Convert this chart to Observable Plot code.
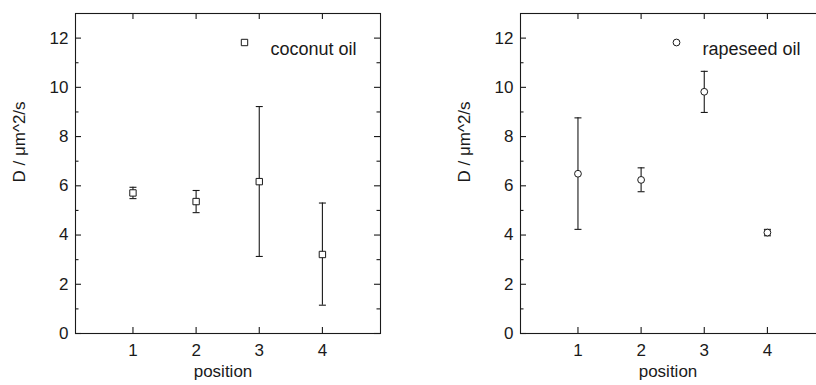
<!DOCTYPE html>
<html>
<head>
<meta charset="utf-8">
<script src="https://cdn.jsdelivr.net/npm/d3@7"></script>
<script src="https://cdn.jsdelivr.net/npm/@observablehq/plot@0.6"></script>
<style>
  html, body { margin: 0; padding: 0; background: white; }
  #wrap { position: relative; width: 816px; height: 385px; overflow: hidden; background: white; }
  #left { position: absolute; left: 0; top: 0; width: 408px; }
  #right { position: absolute; left: 408px; top: 0; width: 445px; }
  #wrap svg { max-width: none !important; display: block; }
</style>
</head>
<body>
<div id="wrap"><div id="left"></div><div id="right"></div></div>
<script>
const positions = [1, 2, 3, 4];
const coconutD = [5.71, 5.36, 6.17, 3.21];
const coconutLow = [5.48, 4.91, 3.13, 1.15];
const coconutHigh = [5.94, 5.81, 9.22, 5.30];
const rapeseedD = [6.49, 6.24, 9.82, 4.10];
const rapeseedLow = [4.23, 5.76, 8.98, 3.97];
const rapeseedHigh = [8.76, 6.73, 10.65, 4.23];
const xTicks = [1, 2, 3, 4];
const yMajor = [0, 2, 4, 6, 8, 10, 12];
const yMinor = [1, 3, 5, 7, 9, 11];
const yLabel = "D / \u03bcm^2/s";
const xLabel = "position";

const ink = "#1a1a1a";
const capSymbol = { draw(ctx) { ctx.moveTo(-3.5, 0); ctx.lineTo(3.5, 0); } };

const H = 385, MT = 13, MB = 52, MR = 28;

function panel({vals, low, high, symbol, r, legend, marginLeft, width, legendDx}) {
  const rows = positions.map((p, i) => ({x: p, y: vals[i], lo: low[i], hi: high[i]}));
  const pw = width - marginLeft - MR;
  const ph = H - MT - MB;
  const tk = {stroke: ink, strokeWidth: 1.1};
  return Plot.plot({
    width, height: H,
    marginLeft, marginRight: MR, marginTop: MT, marginBottom: MB,
    x: {domain: [0.09, 4.92]},
    y: {domain: [0, 13]},
    style: {fontFamily: "'Liberation Sans', Arial, sans-serif", fontSize: "17px", color: ink, background: "white", overflow: "visible"},
    marks: [
      Plot.tickY(yMajor, {y: d => d, insetRight: pw - 6, ...tk}),
      Plot.tickY(yMinor, {y: d => d, insetRight: pw - 3.5, ...tk}),
      Plot.tickY(yMajor, {y: d => d, insetLeft: pw - 6, ...tk}),
      Plot.tickY(yMinor, {y: d => d, insetLeft: pw - 3.5, ...tk}),
      Plot.tickX(xTicks, {x: d => d, insetTop: ph - 6, ...tk}),
      Plot.tickX(xTicks, {x: d => d, insetBottom: ph - 6, ...tk}),
      Plot.axisY(yMajor, {tickSize: 0, tickPadding: 7, label: null, fill: ink}),
      Plot.axisX(xTicks, {tickSize: 0, tickPadding: 10, label: null, fill: ink}),
      Plot.frame({stroke: ink, strokeWidth: 1.1}),
      Plot.ruleX(rows, {x: "x", y1: "lo", y2: "hi", stroke: ink, strokeWidth: 1.1}),
      Plot.dot(rows, {x: "x", y: "lo", symbol: capSymbol, stroke: ink, fill: "none", strokeWidth: 1.1}),
      Plot.dot(rows, {x: "x", y: "hi", symbol: capSymbol, stroke: ink, fill: "none", strokeWidth: 1.1}),
      Plot.dot(rows, {x: "x", y: "y", symbol, r, stroke: ink, fill: "white", strokeWidth: 1}),
      Plot.dot([legend], {frameAnchor: "top-left", dx: legendDx[0], dy: 29, symbol, r, stroke: ink, fill: "white", strokeWidth: 1}),
      Plot.text([legend], {frameAnchor: "top-left", dx: legendDx[1], dy: 29, text: d => d, textAnchor: "start", fontSize: 18, fill: ink}),
      Plot.text([yLabel], {frameAnchor: "left", dx: -56, dy: 9, rotate: -90, text: d => d, fill: ink}),
      Plot.text([xLabel], {frameAnchor: "bottom", dx: -5, dy: 43, text: d => d, fill: ink})
    ]
  });
}

document.getElementById("left").append(panel({
  vals: coconutD, low: coconutLow, high: coconutHigh,
  symbol: "square", r: 3.6, legend: "coconut oil",
  marginLeft: 75, width: 408, legendDx: [169, 195]
}));
document.getElementById("right").append(panel({
  vals: rapeseedD, low: rapeseedLow, high: rapeseedHigh,
  symbol: "circle", r: 3.4, legend: "rapeseed oil",
  marginLeft: 112, width: 445, legendDx: [156, 182]
}));
</script>
</body>
</html>
